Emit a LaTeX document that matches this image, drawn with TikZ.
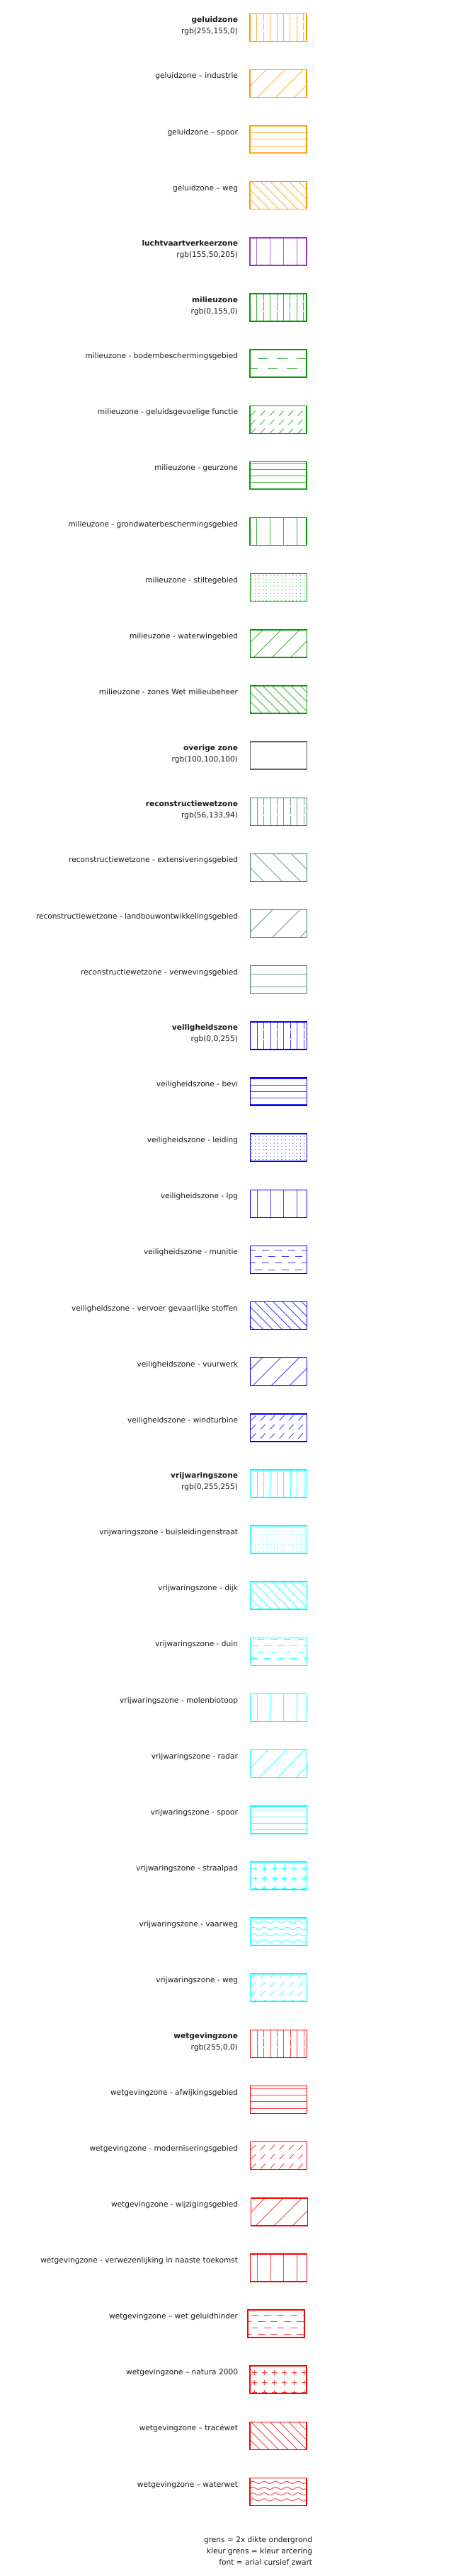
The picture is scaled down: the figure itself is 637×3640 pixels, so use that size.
\documentclass[tikz,border=0pt]{standalone}
\usepackage{fontspec}
\setmainfont{DejaVu Sans}
\definecolor{cgeluid}{RGB}{255,155,0}
\definecolor{clucht}{RGB}{155,50,205}
\definecolor{cmilieu}{RGB}{0,155,0}
\definecolor{covr}{RGB}{100,100,100}
\definecolor{crecon}{RGB}{56,133,94}
\definecolor{cveilig}{RGB}{0,0,255}
\definecolor{cvrij}{RGB}{0,255,255}
\definecolor{cwet}{RGB}{255,0,0}
\tikzset{
  lbl/.style={anchor=base east, inner sep=0pt, outer sep=0pt, font=\fontsize{10.6}{12}\selectfont, text=black!90},
  ttl/.style={lbl, font=\fontsize{10.6}{12}\selectfont\bfseries},
  zbox/.style={minimum width=80pt, minimum height=39pt, inner sep=0pt, outer sep=0pt},
  rim/.style={line width=1.5pt},
  hatch/.style={line width=0.9pt},
}
% zone box: #1 name, #2 index, #3 colour, #4 pattern, #5 x shift
\newcommand\zone[5]{%
  \pgfmathsetmacro\ty{19.3+79.14*#2}%
  \node[zbox] (#1) at ({393+#5},{\ty+19.5}) {};
  \begin{scope}[shift={(#1.north west)}]
    \clip (0,0) rectangle (80,39);
    \begin{scope}[hatch, draw=#3!75!white, fill=#3!85!white]
      #4
    \end{scope}
  \end{scope}
  \draw[rim, #3] (#1.north west) rectangle (#1.south east);
}
\newcommand\lab[3]{%
  \pgfmathsetmacro\ty{19.3+79.14*#2}%
  \node[lbl] (#1) at (336,{\ty+12.5}) {#3};}
\newcommand\tlab[4]{%
  \pgfmathsetmacro\ty{19.3+79.14*#2}%
  \node[ttl] (#1a) at (336,{\ty+12}) {#3};
  \node[lbl] (#1b) at (336,{\ty+28}) {#4};}
% patterns (local u right, v down, box 80 x 39)
\newcommand\pTitle{%
  \foreach \k in {0,...,8}{\pgfmathsetmacro\uu{0.4+9.4*\k}%
    \ifodd\k
      \draw (\uu,0) -- (\uu,39);
    \else
      \draw (\uu,0) -- (\uu,10.3) (\uu,12.3) -- (\uu,24) (\uu,26) -- (\uu,39);
    \fi}}
\newcommand\pFwd[2]{%
  \foreach \c in {-4,...,7}{\pgfmathsetmacro\cc{#2+#1*\c}%
    \draw (\cc,39) -- ({\cc+39},0);}}
\newcommand\pBwd[2]{%
  \foreach \c in {-4,...,7}{\pgfmathsetmacro\cc{#2+#1*\c}%
    \draw (\cc,0) -- ({\cc+39},39);}}
\newcommand\pHor[2]{%
  \foreach \c in {0,...,5}{\pgfmathsetmacro\cc{#2+#1*\c}%
    \draw (0,\cc) -- (80,\cc);}}
\newcommand\pVer[2]{%
  \foreach \c in {0,...,5}{\pgfmathsetmacro\cc{#2+#1*\c}%
    \draw (\cc,0) -- (\cc,39);}}
% rows spacing, first row, last row index, period, dash length, start of first dash
\newcommand\pDash[6]{%
  \foreach \r in {0,...,#3}{%
    \pgfmathsetmacro\vv{#2+#1*\r}%
    \pgfmathsetmacro\ss{mod(#6+#4/2*\r,#4)}%
    \pgfmathsetmacro\ph{#4-\ss}%
    \pgfmathsetmacro\off{#4-#5}%
    \draw[dash pattern=on #5pt off \off pt, dash phase=\ph pt] (0,\vv) -- (80,\vv);}}
\newcommand\pSlash[2]{%
  \foreach \r in {0,...,3}{\foreach \c in {0,...,6}{%
    \pgfmathsetmacro\vv{#1+#2*\r}\pgfmathsetmacro\uu{4.5+13.3*\c}%
    \draw (\uu-3.3,\vv+3.5) -- (\uu+3.3,\vv-3.5);}}}
\newcommand\pDots[4]{%
  \foreach \r in {0,...,9}{\foreach \c in {0,...,16}{%
    \fill ({#3+#1*\c},{#4+#2*\r}) circle (0.65);}}}
\newcommand\pPlus[2]{%
  \foreach \r in {0,...,2}{\foreach \c in {0,...,5}{%
    \pgfmathsetmacro\vv{#2+14*\r}\pgfmathsetmacro\uu{#1+13.9*\c}%
    \draw (\uu-3.5,\vv) -- (\uu+3.5,\vv) (\uu,\vv-3.5) -- (\uu,\vv+3.5);}}}
\newcommand\pWave[2]{%
  \foreach \r in {0,...,3}{\pgfmathsetmacro\vv{#1+#2*\r}%
    \draw plot[domain=0:80,samples=81,smooth] (\x,{\vv-1.6*sin(\x*22.5)});}}
\newcommand\pNone{}
\begin{document}
\begin{tikzpicture}[x=1pt,y=-1pt]
\useasboundingbox (0,0) rectangle (637,3640);
\fill[white] (0,0) rectangle (637,3640);

% geluidzone
\tlab{t0}{0}{geluidzone}{rgb(255,155,0)}
\zone{z0}{0}{cgeluid}{\pTitle}{0}
\lab{t1}{1}{geluidzone – industrie}
\zone{z1}{1}{cgeluid}{\pFwd{26}{10.6}}{0}
\lab{t2}{2}{geluidzone – spoor}
\zone{z2}{2}{cgeluid}{\pHor{9.3}{0.7}}{0}
\lab{t3}{3}{geluidzone – weg}
\zone{z3}{3}{cgeluid}{\pBwd{13.3}{2}}{0}
% luchtvaart
\tlab{t4}{4}{luchtvaartverkeerzone}{rgb(155,50,205)}
\zone{z4}{4}{clucht}{\pVer{18.8}{9.8}}{0}
% milieuzone
\tlab{t5}{5}{milieuzone}{rgb(0,155,0)}
\zone{z5}{5}{cmilieu}{\pTitle}{0}
\lab{t6}{6}{milieuzone - bodembeschermingsgebied}
\zone{z6}{6}{cmilieu}{\pDash{14}{12}{1}{27.8}{14.3}{10.6}}{0}
\lab{t7}{7}{milieuzone - geluidsgevoelige functie}
\zone{z7}{7}{cmilieu}{\pSlash{10.7}{12.6}}{0}
\lab{t8}{8}{milieuzone - geurzone}
\zone{z8}{8}{cmilieu}{\pHor{9}{2}}{0}
\lab{t9}{9}{milieuzone - grondwaterbeschermingsgebied}
\zone{z9}{9}{cmilieu}{\pVer{18.8}{9.8}}{0}
\lab{t10}{10}{milieuzone - stiltegebied}
\zone{z10}{10}{cmilieu}{\pDots{5.3}{5}{2}{2.5}}{0.5}
\lab{t11}{11}{milieuzone - waterwingebied}
\zone{z11}{11}{cmilieu}{\pFwd{26}{5}}{0.5}
\lab{t12}{12}{milieuzone - zones Wet milieubeheer}
\zone{z12}{12}{cmilieu}{\pBwd{13.3}{4}}{0.5}
% overige
\tlab{t13}{13}{overige zone}{rgb(100,100,100)}
\zone{z13}{13}{covr}{\pNone}{0.5}
% reconstructiewetzone
\tlab{t14}{14}{reconstructiewetzone}{rgb(56,133,94)}
\zone{z14}{14}{crecon}{\pTitle}{0.5}
\lab{t15}{15}{reconstructiewetzone - extensiveringsgebied}
\zone{z15}{15}{crecon}{\pBwd{26}{6}}{0.5}
\lab{t16}{16}{reconstructiewetzone - landbouwontwikkelingsgebied}
\zone{z16}{16}{crecon}{\pFwd{39}{-7.6}}{0.5}
\lab{t17}{17}{reconstructiewetzone - verwevingsgebied}
\zone{z17}{17}{crecon}{\pHor{18.4}{11.3}}{0.5}
% veiligheidszone
\tlab{t18}{18}{veiligheidszone}{rgb(0,0,255)}
\zone{z18}{18}{cveilig}{\pTitle}{0.5}
\lab{t19}{19}{veiligheidszone - bevi}
\zone{z19}{19}{cveilig}{\pHor{9}{1.7}}{0.5}
\lab{t20}{20}{veiligheidszone - leiding}
\zone{z20}{20}{cveilig}{\pDots{5.3}{4.7}{2}{3.7}}{0.5}
\lab{t21}{21}{veiligheidszone - lpg}
\zone{z21}{21}{cveilig}{\pVer{18.8}{9.8}}{0.5}
\lab{t22}{22}{veiligheidszone - munitie}
\zone{z22}{22}{cveilig}{\pDash{9.1}{6.3}{3}{18.8}{10}{16}}{0.5}
\lab{t23}{23}{veiligheidszone - vervoer gevaarlijke stoffen}
\zone{z23}{23}{cveilig}{\pBwd{13.3}{6}}{0.5}
\lab{t24}{24}{veiligheidszone - vuurwerk}
\zone{z24}{24}{cveilig}{\pFwd{26}{3.7}}{0.5}
\lab{t25}{25}{veiligheidszone - windturbine}
\zone{z25}{25}{cveilig}{\pSlash{6}{12.6}}{0.5}
% vrijwaringszone
\tlab{t26}{26}{vrijwaringszone}{rgb(0,255,255)}
\zone{z26}{26}{cvrij}{\pTitle}{0.5}
\lab{t27}{27}{vrijwaringszone - buisleidingenstraat}
\zone{z27}{27}{cvrij}{\pDots{5.3}{4.7}{2}{3}}{0.5}
\lab{t28}{28}{vrijwaringszone - dijk}
\zone{z28}{28}{cvrij}{\pBwd{13.3}{4}}{0.5}
\lab{t29}{29}{vrijwaringszone - duin}
\zone{z29}{29}{cvrij}{\pDash{9}{2.3}{3}{18.8}{10}{9.8}}{0.5}
\lab{t30}{30}{vrijwaringszone - molenbiotoop}
\zone{z30}{30}{cvrij}{\pVer{18.8}{9.8}}{0.5}
\lab{t31}{31}{vrijwaringszone - radar}
\zone{z31}{31}{cvrij}{\pFwd{26}{12.5}}{0.5}
\lab{t32}{32}{vrijwaringszone - spoor}
\zone{z32}{32}{cvrij}{\pHor{9.3}{6}}{0.5}
\lab{t33}{33}{vrijwaringszone - straalpad}
\zone{z33}{33}{cvrij}{\pPlus{6.5}{9.3}}{0.5}
\lab{t34}{34}{vrijwaringszone - vaarweg}
\zone{z34}{34}{cvrij}{\pWave{5.7}{9.1}}{0.5}
\lab{t35}{35}{vrijwaringszone - weg}
\zone{z35}{35}{cvrij}{\pSlash{2.7}{12.5}}{0.5}
% wetgevingzone
\tlab{t36}{36}{wetgevingzone}{rgb(255,0,0)}
\zone{z36}{36}{cwet}{\pTitle}{0.5}
\lab{t37}{37}{wetgevingzone - afwijkingsgebied}
\zone{z37}{37}{cwet}{\pHor{9.4}{3.5}}{0.5}
\lab{t38}{38}{wetgevingzone - moderniseringsgebied}
\zone{z38}{38}{cwet}{\pSlash{7.7}{13.3}}{0.5}
\lab{t39}{39}{wetgevingzone - wijzigingsgebied}
\zone{z39}{39}{cwet}{\pFwd{26}{7}}{1.5}
\lab{t40}{40}{wetgevingzone - verwezenlijking in naaste toekomst}
\zone{z40}{40}{cwet}{\pVer{18.8}{9.8}}{0.5}
\lab{t41}{41}{wetgevingzone – wet geluidhinder}
\zone{z41}{41}{cwet}{\pDash{8.9}{7.3}{3}{18.4}{10}{4.5}}{-3}
\lab{t42}{42}{wetgevingzone – natura 2000}
\zone{z42}{42}{cwet}{\pPlus{6.5}{9}}{0}
\lab{t43}{43}{wetgevingzone – tracéwet}
\zone{z43}{43}{cwet}{\pBwd{13.3}{1.5}}{0}
\lab{t44}{44}{wetgevingzone – waterwet}
\zone{z44}{44}{cwet}{\pWave{6.3}{8.2}}{0}

% footer
\node[lbl] (f1) at (441,3592) {grens = 2x dikte ondergrond};
\node[lbl] (f2) at (441,3608) {kleur grens = kleur arcering};
\node[lbl] (f3) at (441,3624) {font = arial cursief zwart};
\end{tikzpicture}
\end{document}
